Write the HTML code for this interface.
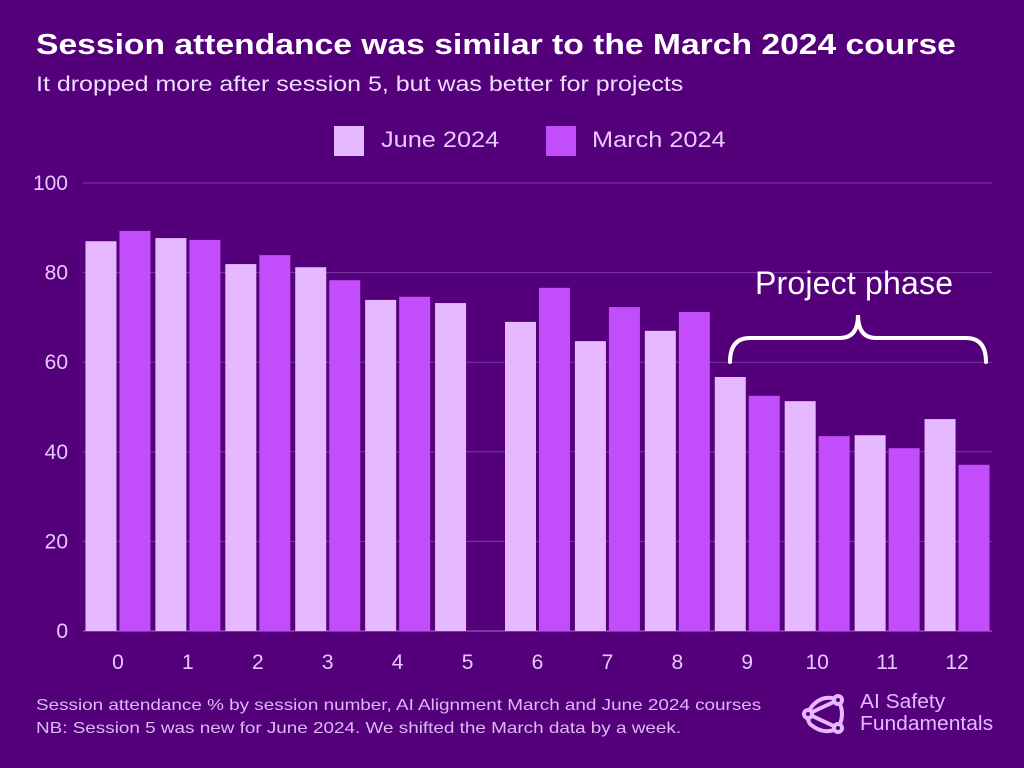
<!DOCTYPE html>
<html><head><meta charset="utf-8"><style>
body{margin:0;width:1024px;height:768px;background:#55007b;font-family:"Liberation Sans",sans-serif;overflow:hidden;position:relative}
.t{position:absolute;white-space:nowrap;transform-origin:0 0}
</style></head><body>
<div class="t" style="left:36px;top:29px;font-size:29px;font-weight:bold;color:#fff;transform:scaleX(1.16)">Session attendance was similar to the March 2024 course</div>
<div class="t" style="left:36px;top:73px;font-size:21px;color:#f0dcff;transform:scaleX(1.19)">It dropped more after session 5, but was better for projects</div>
<div class="t" style="left:334px;top:126px;font-size:22px;color:#eac8ff"><span style="display:inline-block;width:30px;height:30px;background:#e6b8ff;vertical-align:middle;margin-right:17px"></span><span style="display:inline-block;transform:scaleX(1.15);transform-origin:0 0">June 2024</span></div>
<div class="t" style="left:546px;top:126px;font-size:22px;color:#eac8ff"><span style="display:inline-block;width:30px;height:30px;background:#c24dfb;vertical-align:middle;margin-right:16px"></span><span style="display:inline-block;transform:scaleX(1.15);transform-origin:0 0">March 2024</span></div>
<svg id="c" width="1024" height="768" style="position:absolute;left:0;top:0"></svg>
<div class="t" style="left:36px;top:694px;font-size:16px;line-height:23px;color:#dcb8f5;transform:scaleX(1.18)">Session attendance % by session number, AI Alignment March and June 2024 courses<br>NB: Session 5 was new for June 2024. We shifted the March data by a week.</div>
<svg class="t" style="left:800px;top:690px" width="50" height="46" viewBox="0 0 50 46"><g fill="none" stroke="#e6b8ff" stroke-width="4"><path d="M14 14 Q25 4 38 10 Q46 24 38 38 Q24 46 10 34 Q4 24 14 14"/><path d="M38 10 L8 24 L38 38"/><circle cx="38" cy="10" r="4" fill="#55007b"/><circle cx="8" cy="24" r="4" fill="#55007b"/><circle cx="38" cy="38" r="4" fill="#55007b"/></g></svg>
<div class="t" style="left:860px;top:691px;font-size:20px;line-height:22px;color:#e6b8ff;transform:scaleX(1.05)">AI Safety<br>Fundamentals</div>
<script>
const categories=["0","1","2","3","4","5","6","7","8","9","10","11","12"];
const june=[87,87.7,81.9,81.2,73.9,73.2,69,64.7,67,56.7,51.3,43.7,47.3];
const march=[89.3,87.3,83.9,78.3,74.6,null,76.6,72.3,71.2,52.5,43.5,40.8,37.1];
const yTicks=[0,20,40,60,80,100];
const NS="http://www.w3.org/2000/svg";
const svg=document.getElementById('c');
const x0=83,x1=992,y0=631,y1=183;
const y=v=>y0-(v/100)*(y0-y1);
const step=(x1-x0)/categories.length;
const cx=i=>x0+step*(i+0.5);
function mk(t,a){const e=document.createElementNS(NS,t);for(const k in a)e.setAttribute(k,a[k]);svg.appendChild(e);return e;}
yTicks.forEach(v=>{
 const l=mk('line',{x1:x0,x2:x1,y1:y(v),y2:y(v),stroke:v===0?'#a070c0':'#7a3aa0','stroke-width':1});
 
 
 const t=mk('text',{x:68,y:y(v)+7,'text-anchor':'end','font-size':21,fill:'#e6c8ff','font-family':'Liberation Sans'});
 t.textContent=v;
 
 
});
const bw=31,gap=3;
categories.forEach((c,i)=>{
 if(june[i]!=null){const r=mk('rect',{x:cx(i)-gap/2-bw,y:y(june[i]),width:bw,height:y0-y(june[i]),fill:'#e6b8ff'});
 
 }
 if(march[i]!=null){const r=mk('rect',{x:cx(i)+gap/2,y:y(march[i]),width:bw,height:y0-y(march[i]),fill:'#c24dfb'});
 
 }
 const t=mk('text',{x:cx(i),y:669,'text-anchor':'middle','font-size':21,fill:'#e6c8ff','font-family':'Liberation Sans'});
 t.textContent=c;
 
 
});
const br=mk('path',{d:'M730 362 Q730 338 750 338 L840 338 Q858 338 858 315 Q858 338 876 338 L966 338 Q986 338 986 362',fill:'none',stroke:'#fff','stroke-width':4,'stroke-linecap':'round'});


const pt=mk('text',{x:854,y:294,'text-anchor':'middle','font-size':32,fill:'#fff','font-family':'Liberation Sans','textLength':198});
pt.textContent='Project phase';


</script>
</body></html>
